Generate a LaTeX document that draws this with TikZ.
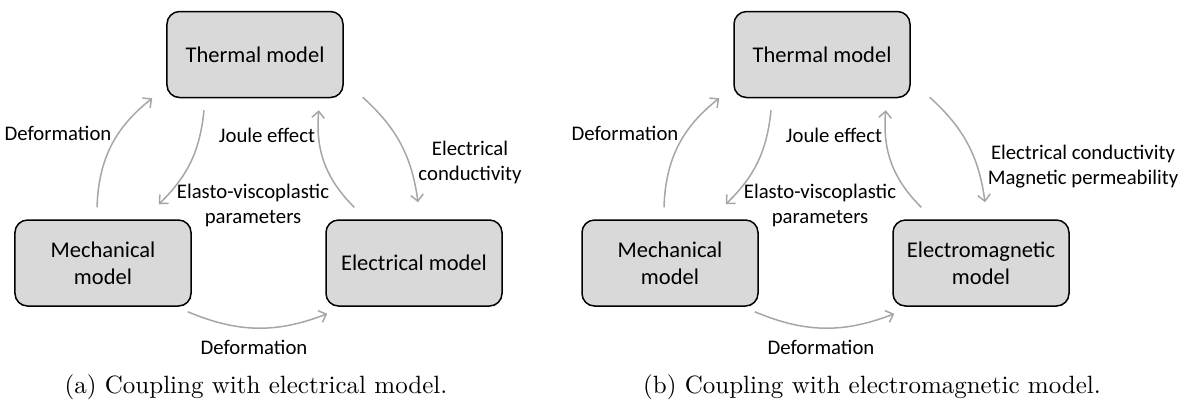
\documentclass[tikz,border=0pt]{standalone}
\usepackage{fontspec}
\usetikzlibrary{arrows.meta}
\newfontfamily\diagfont{Carlito}
\definecolor{boxgray}{HTML}{D9D9D9}
\definecolor{linegray}{HTML}{A6A6A6}
\tikzstyle{block} =
        [
                rectangle,
                draw,
                fill = boxgray,
                line width = 0.6pt,
                align = center,
                rounded corners = 5pt,
                minimum width = 70.4pt,
                minimum height = 34.4pt,
                font = \diagfont\fontsize{9}{10.8}\selectfont
        ]
\tikzstyle{line} =
        [
                draw,
                -{Straight Barb[length = 2.6pt, width = 5pt]},
                linegray,
                line width = 0.6pt
        ]
\tikzstyle{note} =
        [
                align = center,
                inner sep = 0pt,
                font = \diagfont\fontsize{8.3}{10}\selectfont
        ]
\tikzstyle{subcap} =
        [
                anchor = base,
                inner sep = 0pt,
                font = \fontsize{10}{12}\selectfont
        ]

\begin{document}
\begin{tikzpicture}[x = 0.4pt, y = -0.4pt]
        \useasboundingbox (0,0) rectangle (1188,403);
        % (a) electrical model
        \node [block] (thermal) at (255,54.5) {Thermal model};
        \node [block] (mechanical) at (103,263) {Mechanical\\model};
        \node [block] (electrical) at (414,263) {Electrical model};

        \path [line] ([shift={(-6,-12)}]mechanical.north) to [bend left = 25] ([shift={(-14,0)}]thermal.south west);
        \path [line] ([shift={(-51,12)}]thermal.south) to [bend left = 20] ([shift={(-33,-15)}]mechanical.north east);
        \path [line] ([shift={(29,-12)}]electrical.north west) to [bend left = 25] ([shift={(-25,12)}]thermal.south east);
        \path [line] ([shift={(19,-1)}]thermal.south east) to [bend left = 20] ([shift={(4,-17)}]electrical.north);
        \path [line] ([shift={(-4,5)}]mechanical.south east) to [bend right = 22] ([shift={(2,7)}]electrical.south west);

        \node [note] (deform1) at (58,133) {Deformation};
        \node [note] (joule) at (267,135) {Joule effect};
        \node [note] (elasto) at (253,205.5) {Elasto-viscoplastic\\parameters};
        \node [note] (conduct) at (470,162.5) {Electrical\\conductivity};
        \node [note] (deform2) at (254,347) {Deformation};
        \node [subcap] (capa) at (256,393) {(a) Coupling with electrical model.};

        % (b) electromagnetic model
        \node [block] (thermal2) at (822,54.5) {Thermal model};
        \node [block] (mechanical2) at (670,263) {Mechanical\\model};
        \node [block] (electromagnetic) at (981,263) {Electromagnetic\\model};

        \path [line] ([shift={(-6,-12)}]mechanical2.north) to [bend left = 25] ([shift={(-14,0)}]thermal2.south west);
        \path [line] ([shift={(-51,12)}]thermal2.south) to [bend left = 20] ([shift={(-33,-15)}]mechanical2.north east);
        \path [line] ([shift={(29,-12)}]electromagnetic.north west) to [bend left = 25] ([shift={(-25,12)}]thermal2.south east);
        \path [line] ([shift={(19,-1)}]thermal2.south east) to [bend left = 20] ([shift={(4,-17)}]electromagnetic.north);
        \path [line] ([shift={(-4,5)}]mechanical2.south east) to [bend right = 22] ([shift={(2,7)}]electromagnetic.south west);

        \node [note] (deform3) at (625,133) {Deformation};
        \node [note] (joule2) at (834,135) {Joule effect};
        \node [note] (elasto2) at (820,205.5) {Elasto-viscoplastic\\parameters};
        \node [note] (conduct2) at (1083,167) {Electrical conductivity\\Magnetic permeability};
        \node [note] (deform4) at (821,347) {Deformation};
        \node [subcap] (capb) at (872,393) {(b) Coupling with electromagnetic model.};
\end{tikzpicture}
\end{document}
